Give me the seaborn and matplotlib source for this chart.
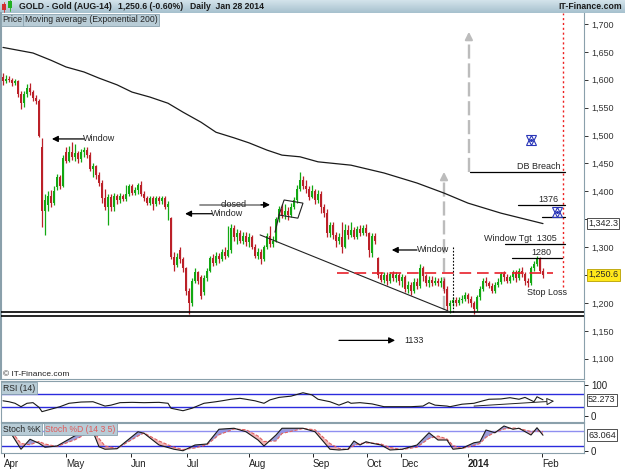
import numpy as np
import matplotlib
matplotlib.use('Agg')
import matplotlib.pyplot as plt
import seaborn as sns
from matplotlib.patches import Rectangle, Polygon

# daily candles, Apr 2013 - Jan 28 2014
opens = [1605, 1598, 1602, 1600, 1594, 1598, 1575, 1558, 1575, 1585, 1578, 1568, 1562, 1480, 1365, 1375, 1392, 1380, 1408, 1425,
         1410, 1470, 1455, 1470, 1462, 1468, 1458, 1470, 1474, 1466, 1440, 1445, 1430, 1415, 1388, 1372, 1390, 1372, 1392, 1385,
         1392, 1386, 1395, 1410, 1398, 1402, 1412, 1395, 1388, 1380, 1388, 1378, 1388, 1383, 1388, 1372, 1352, 1282, 1268, 1295,
         1278, 1262, 1222, 1200, 1240, 1255, 1246, 1220, 1245, 1258, 1280, 1272, 1285, 1278, 1292, 1285, 1295, 1335, 1318, 1325,
         1312, 1320, 1310, 1318, 1300, 1285, 1292, 1278, 1300, 1320, 1305, 1312, 1350, 1368, 1358, 1365, 1358, 1372, 1384, 1405,
         1420, 1410, 1405, 1390, 1400, 1385, 1395, 1372, 1362, 1325, 1340, 1322, 1312, 1318, 1300, 1330, 1322, 1330, 1318, 1332,
         1325, 1335, 1325, 1290, 1320, 1280, 1250, 1242, 1250, 1240, 1252, 1245, 1250, 1240, 1246, 1225, 1232, 1222, 1238, 1230,
         1262, 1248, 1235, 1242, 1236, 1240, 1235, 1240, 1225, 1195, 1200, 1205, 1200, 1205, 1208, 1214, 1208, 1200, 1190, 1210,
         1225, 1240, 1236, 1230, 1222, 1232, 1238, 1252, 1246, 1240, 1246, 1256, 1245, 1258, 1252, 1240, 1236, 1262, 1270, 1278,
         1258]
highs = [1612, 1608, 1606, 1604, 1602, 1600, 1580, 1580, 1592, 1595, 1582, 1572, 1566, 1495, 1395, 1400, 1402, 1410, 1432, 1430,
         1465, 1480, 1482, 1489, 1485, 1472, 1476, 1480, 1480, 1470, 1450, 1448, 1434, 1420, 1404, 1396, 1395, 1398, 1396, 1398,
         1396, 1412, 1414, 1414, 1408, 1415, 1418, 1400, 1392, 1392, 1392, 1392, 1392, 1392, 1392, 1382, 1355, 1292, 1290, 1300,
         1282, 1265, 1226, 1245, 1262, 1258, 1250, 1250, 1262, 1285, 1288, 1292, 1290, 1296, 1300, 1338, 1342, 1340, 1332, 1330,
         1328, 1328, 1325, 1322, 1305, 1298, 1296, 1304, 1325, 1338, 1320, 1355, 1374, 1378, 1378, 1372, 1380, 1390, 1412, 1435,
         1428, 1420, 1410, 1412, 1405, 1402, 1400, 1378, 1368, 1345, 1345, 1328, 1325, 1345, 1342, 1340, 1345, 1336, 1338, 1340,
         1340, 1342, 1328, 1326, 1325, 1282, 1256, 1256, 1255, 1256, 1258, 1255, 1254, 1252, 1250, 1240, 1238, 1245, 1244, 1270,
         1266, 1252, 1248, 1248, 1246, 1245, 1246, 1244, 1230, 1205, 1210, 1210, 1210, 1214, 1220, 1218, 1212, 1204, 1214, 1230,
         1244, 1246, 1240, 1236, 1238, 1244, 1256, 1258, 1252, 1250, 1260, 1260, 1262, 1264, 1256, 1244, 1266, 1276, 1284, 1282,
         1262]
lows = [1590, 1594, 1596, 1588, 1590, 1570, 1548, 1552, 1570, 1572, 1562, 1556, 1498, 1336, 1322, 1365, 1372, 1376, 1402, 1405,
        1408, 1450, 1452, 1456, 1455, 1450, 1452, 1462, 1460, 1436, 1425, 1422, 1410, 1380, 1366, 1340, 1365, 1365, 1378, 1380,
        1382, 1383, 1392, 1394, 1394, 1396, 1392, 1382, 1376, 1376, 1366, 1374, 1378, 1378, 1368, 1349, 1278, 1258, 1265, 1272,
        1255, 1215, 1180, 1195, 1236, 1234, 1208, 1215, 1240, 1255, 1266, 1268, 1272, 1275, 1278, 1282, 1290, 1312, 1305, 1308,
        1305, 1302, 1300, 1296, 1280, 1278, 1270, 1275, 1296, 1300, 1300, 1310, 1345, 1352, 1350, 1348, 1355, 1368, 1380, 1400,
        1405, 1398, 1385, 1388, 1378, 1380, 1362, 1355, 1318, 1318, 1315, 1300, 1305, 1290, 1298, 1315, 1318, 1314, 1315, 1320,
        1322, 1320, 1282, 1282, 1305, 1245, 1238, 1236, 1232, 1236, 1240, 1238, 1232, 1228, 1220, 1218, 1215, 1218, 1225, 1226,
        1240, 1230, 1228, 1230, 1232, 1230, 1228, 1218, 1188, 1182, 1195, 1195, 1196, 1200, 1204, 1200, 1192, 1180, 1186, 1206,
        1222, 1230, 1226, 1218, 1218, 1228, 1234, 1240, 1236, 1236, 1242, 1238, 1242, 1246, 1232, 1228, 1232, 1258, 1266, 1254,
        1245]
closes = [1598, 1602, 1600, 1594, 1598, 1575, 1558, 1575, 1585, 1578, 1568, 1562, 1500, 1365, 1385, 1392, 1380, 1400, 1425, 1410,
          1460, 1455, 1470, 1462, 1468, 1458, 1470, 1474, 1466, 1440, 1445, 1430, 1415, 1388, 1372, 1390, 1372, 1392, 1385, 1392,
          1386, 1395, 1410, 1398, 1402, 1412, 1395, 1388, 1380, 1388, 1378, 1388, 1383, 1388, 1372, 1378, 1282, 1268, 1282, 1278,
          1262, 1222, 1200, 1240, 1255, 1240, 1212, 1245, 1258, 1280, 1272, 1285, 1278, 1292, 1285, 1295, 1335, 1318, 1325, 1312,
          1320, 1310, 1318, 1300, 1285, 1292, 1278, 1300, 1320, 1305, 1312, 1350, 1368, 1358, 1365, 1358, 1372, 1384, 1405, 1420,
          1410, 1405, 1390, 1400, 1385, 1395, 1372, 1362, 1325, 1340, 1322, 1312, 1318, 1300, 1330, 1322, 1330, 1318, 1332, 1325,
          1335, 1325, 1295, 1320, 1312, 1250, 1242, 1250, 1240, 1252, 1245, 1250, 1240, 1246, 1225, 1232, 1222, 1238, 1230, 1262,
          1248, 1235, 1242, 1236, 1240, 1235, 1240, 1225, 1195, 1200, 1205, 1200, 1205, 1208, 1214, 1208, 1200, 1190, 1210, 1225,
          1240, 1236, 1230, 1222, 1232, 1238, 1252, 1246, 1240, 1246, 1256, 1245, 1258, 1252, 1240, 1236, 1262, 1270, 1278, 1258,
          1250.6]

# exponential moving average 200 (sampled along the curve)
ma_bars = [0, 10, 16, 21, 27, 32, 38, 43, 49, 55, 60, 66, 71, 77, 82, 88, 93, 99, 105, 116, 127, 138, 147, 155, 166, 175, 180]
ma_vals = [1658, 1648, 1635, 1623, 1614, 1603, 1591, 1578, 1569, 1558, 1542, 1524, 1506, 1496, 1487, 1474, 1465, 1462, 1453,
           1447, 1433, 1415, 1397, 1379, 1361, 1349, 1342.3]

rsi_bars = [0, 2, 4, 6, 8, 10, 12, 13, 16, 19, 22, 26, 30, 34, 36, 39, 43, 47, 52, 55, 56, 60, 63, 67, 71, 73, 76, 79, 81, 84,
            87, 89, 92, 96, 100, 103, 105, 109, 112, 115, 116, 119, 123, 127, 132, 136, 140, 142, 144, 148, 149, 153, 157, 160,
            162, 166, 169, 172, 174, 177, 178, 180]
rsi_vals = [49, 46, 41, 30, 41, 43, 28, 14, 22, 30, 41, 45, 46, 32, 35, 43, 44, 43, 44, 41, 25, 17, 25, 41, 46, 49, 54, 57, 54, 49,
            41, 52, 60, 64, 75, 68, 54, 46, 35, 46, 41, 43, 39, 30, 30, 30, 32, 43, 35, 32, 30, 38, 41, 49, 54, 55, 59, 54, 60, 46,
            62, 52.273]

stoch_bars = [3, 6, 9, 12, 14, 18, 24, 28, 30, 32, 34, 38, 45, 47, 52, 57, 60, 64, 68, 72, 77, 81, 85, 87, 91, 93, 100, 104, 109,
              112, 115, 117, 119, 121, 123, 126, 129, 133, 138, 142, 145, 148, 150, 153, 157, 159, 161, 164, 167, 170, 172, 176,
              178, 180]
stoch_k = [64, 7, 47, 31, 15, 20, 61, 77, 77, 17, 7, 9, 77, 71, 24, 7, 1, 24, 28, 87, 91, 77, 44, 20, 64, 91, 91, 77, 7, 4, 7, 40,
           24, 37, 31, 24, 4, 7, 24, 73, 44, 44, 7, 11, 33, 37, 84, 73, 100, 87, 91, 64, 93, 63.064]
stoch_d = [75, 30, 25, 38, 28, 18, 45, 70, 78, 50, 20, 10, 60, 72, 40, 15, 6, 12, 25, 65, 88, 85, 60, 38, 40, 70, 90, 85, 30, 10,
           6, 22, 30, 32, 32, 28, 14, 6, 15, 50, 60, 48, 22, 10, 22, 30, 55, 75, 88, 92, 90, 78, 80, 78]

month_bars = [0.3, 21, 42.7, 61.3, 82, 103.3, 121.3, 132.7, 155, 179.7]
month_labels = ['Apr', 'May', 'Jun', 'Jul', 'Aug', 'Sep', 'Oct', 'Dec', '2014', 'Feb']
price_ticks = list(range(1100, 1701, 50))

sns.set_style('white')
plt.rcParams['font.family'] = ['Liberation Sans', 'DejaVu Sans']

W, H = 625, 469
fig = plt.figure(figsize=(6.25, 4.69), dpi=100)


def box(x0, y0, x1, y1):
    return [x0 / W, 1 - y1 / H, (x1 - x0) / W, (y1 - y0) / H]


frame = '#8aa0ab'
lbl_box = dict(boxstyle='square,pad=0.18', fc='#b8ccd6', ec='#8aa2ae', lw=0.6)

# ---- title bar
ax_t = fig.add_axes(box(0, 0, 625, 13))
grad = np.linspace(0, 1, 20).reshape(-1, 1)
ax_t.imshow(grad, aspect='auto', extent=(0, 625, 13, 0),
            cmap=matplotlib.colors.LinearSegmentedColormap.from_list('g', ['#d3e3eb', '#a7c1ce']))
ax_t.set_xlim(0, 625)
ax_t.set_ylim(13, 0)
ax_t.axis('off')
ax_t.add_patch(Rectangle((2, 4), 4, 6, fc='#d23030', ec='none'))
ax_t.plot([4, 4], [2, 12], color='#d23030', lw=0.6)
ax_t.add_patch(Rectangle((8, 1.5), 4, 7, fc='#22b022', ec='none'))
ax_t.plot([10, 10], [0.5, 11], color='#22b022', lw=0.6)
tkw = dict(fontsize=6.2, fontweight='bold', color='#1a1a1a', va='center')
ax_t.text(19, 6.8, 'GOLD - Gold (AUG-14)', **tkw)
ax_t.text(118, 6.8, '1,250.6 (-0.60%)', **tkw)
ax_t.text(190, 6.8, 'Daily  Jan 28 2014', **tkw)
ax_t.text(622, 6.8, 'IT-Finance.com', ha='right', **tkw)

# ---- price panel
ax = fig.add_axes(box(1, 13, 584, 379))
idx = np.arange(len(closes))
o = np.array(opens, dtype=float)
c = np.array(closes, dtype=float)
col = np.where(c >= o, '#12a812', '#bb2028')
ax.vlines(idx, lows, highs, colors=col, lw=0.9, zorder=3)
ax.bar(idx, np.maximum(np.abs(c - o), 1.5), bottom=np.minimum(o, c), width=0.8, color=col, linewidth=0, zorder=3)
sns.lineplot(x=ma_bars, y=ma_vals, ax=ax, color='#1a1a1a', lw=0.9, zorder=4)

ax.set_xlim(-0.667, 193.67)
ax.set_ylim(1063.8, 1719.7)
ax.set_xticks([])
ax.yaxis.tick_right()
ax.set_yticks(price_ticks)
ax.set_yticklabels(['' if v in (1250, 1350) else f'{v:,}' for v in price_ticks])
ax.tick_params(axis='y', direction='out', length=3, width=0.7, colors='#333333', labelsize=6.5, pad=2)
ax.spines['top'].set_visible(False)
for s in ('left', 'right', 'bottom'):
    ax.spines[s].set_color(frame)
ax.spines['left'].set_linewidth(1.5)

# support lines and patterns
for lvl in (1184.5, 1177):
    ax.axhline(lvl, color='k', lw=1.2, zorder=5)
ax.plot([85.7, 148.3], [1322, 1186], color='#222222', lw=0.8, zorder=5)
ax.plot([111.3, 183.3], [1253, 1253], color='#e8202a', lw=1.2, dashes=(7, 3.5), zorder=5)
ax.plot([150, 150], [1184, 1300], color='k', lw=0.8, ls=(0, (1.5, 1.5)), zorder=5)
ax.plot([186.7, 186.7], [1228, 1720], color='#ee2020', lw=1, ls=(0, (1.5, 2)), zorder=5)

# projected moves (grey dashed arrows)
gray = '#bcbcbc'
ax.plot([155.3, 155.3], [1435, 1674], color=gray, lw=1.7, dashes=(6, 2), zorder=1)
ax.annotate('', xy=(155.3, 1686), xytext=(155.3, 1672),
            arrowprops=dict(arrowstyle='-|>', color=gray, mutation_scale=11, lw=1.5, shrinkA=0, shrinkB=0))
ax.plot([147, 147], [1187, 1423], color=gray, lw=1.7, dashes=(6, 2), zorder=1)
ax.annotate('', xy=(147, 1435), xytext=(147, 1421),
            arrowprops=dict(arrowstyle='-|>', color=gray, mutation_scale=11, lw=1.5, shrinkA=0, shrinkB=0))

# flag
ax.add_patch(Polygon([(93.7, 1384.6), (100, 1379), (98.3, 1352), (92, 1357.7)], closed=True,
                     fill=False, ec='#222222', lw=0.8, zorder=5))
ax.plot([90.7, 92], [1327, 1357.7], color='#222222', lw=0.9, zorder=5)

akw = dict(arrowstyle='-|>', color='k', lw=0.9, mutation_scale=9, shrinkA=0, shrinkB=0)
fs = 6.5
ax.annotate('', xy=(16.3, 1494), xytext=(27, 1494), arrowprops=akw, zorder=6)
ax.text(26.7, 1494, 'Window', fontsize=fs, va='center', zorder=6)
ax.plot([65.7, 87], [1376, 1376], color='#888888', lw=1.3, zorder=5)
ax.annotate('', xy=(89, 1376), xytext=(86, 1376), arrowprops=akw, zorder=6)
ax.text(77, 1377, 'closed', fontsize=fs, va='center', ha='center', zorder=6)
ax.annotate('', xy=(60.7, 1360), xytext=(69.7, 1360), arrowprops=akw, zorder=6)
ax.text(69.3, 1360, 'Window', fontsize=fs, va='center', zorder=6)
ax.annotate('', xy=(129.6, 1295), xytext=(138, 1295), arrowprops=akw, zorder=6)
ax.text(138, 1295, 'Window', fontsize=fs, va='center', zorder=6)
ax.annotate('', xy=(130.7, 1133), xytext=(112, 1133), arrowprops=akw, zorder=6)
ax.text(133.7, 1133, '1133', fontsize=fs, va='center', zorder=6)

# target levels
for x0, x1, y in [(155.7, 187.3, 1435), (171.7, 187.3, 1376), (179.7, 187.3, 1354),
                  (167.3, 187.3, 1306), (169.7, 186.3, 1281)]:
    ax.plot([x0, x1], [y, y], color='k', lw=0.9, zorder=5, clip_on=False)
ax.text(185.7, 1437, 'DB Breach', fontsize=fs, ha='right', va='bottom', zorder=6)
ax.text(181.7, 1377, '1376', fontsize=fs, ha='center', va='bottom', zorder=6)
ax.text(184.7, 1307, 'Window Tgt  1305', fontsize=fs, ha='right', va='bottom', zorder=6)
ax.text(179.3, 1282, '1280', fontsize=fs, ha='center', va='bottom', zorder=6)
ax.text(181.3, 1218, 'Stop Loss', fontsize=fs, ha='center', va='center', color='#222222', zorder=6)

for sx, sy in [(176, 1492), (184.7, 1363)]:
    ax.plot(sx, sy, marker='^', ms=6.5, mfc='none', mec='#2a36b8', mew=0.8, zorder=6)
    ax.plot(sx, sy, marker='v', ms=6.5, mfc='none', mec='#2a36b8', mew=0.8, zorder=6)
    ax.plot(sx, sy, marker='o', ms=1.2, color='#2a36b8', zorder=6)

ytr = ax.get_yaxis_transform()
ax.text(1.007, 1342.3, '1,342.3', transform=ytr, fontsize=6.5, va='center', ha='left', clip_on=False,
        bbox=dict(boxstyle='square,pad=0.15', fc='white', ec='#333333', lw=0.6))
ax.text(1.007, 1250.6, '1,250.6', transform=ytr, fontsize=6.5, va='center', ha='left', clip_on=False,
        bbox=dict(boxstyle='square,pad=0.15', fc='#ffe81a', ec='#b8a000', lw=0.6))

ax.text(0.003, 0.994, 'Price', transform=ax.transAxes, fontsize=6.2, va='top', ha='left', bbox=lbl_box, zorder=7)
ax.text(0.041, 0.994, 'Moving average (Exponential 200)', transform=ax.transAxes, fontsize=6.2, va='top',
        ha='left', bbox=lbl_box, zorder=7)
fig.text(3 / W, 1 - 374 / H, '\u00a9 IT-Finance.com', fontsize=6, va='center', color='#222222')

# ---- RSI panel
ax_r = fig.add_axes(box(1, 381, 584, 422))
ax_r.set_xlim(-0.667, 193.67)
ax_r.set_ylim(-19.4, 112.9)
for lvl in (70, 30):
    ax_r.axhline(lvl, color='#2b2bdd', lw=1)
sns.lineplot(x=rsi_bars, y=rsi_vals, ax=ax_r, color='#1a1a1a', lw=0.8)
ax_r.annotate('', xy=(183.7, 48), xytext=(157, 32),
              arrowprops=dict(arrowstyle='-|>', fc='white', ec='#222222', lw=0.7, mutation_scale=11,
                              shrinkA=0, shrinkB=0))
ax_r.set_xticks([])
ax_r.yaxis.tick_right()
ax_r.set_yticks([0, 100])
ax_r.set_yticklabels(['0', '100'])
ax_r.tick_params(axis='y', direction='out', length=3, width=0.7, colors='#222222', labelsize=7, pad=2)
for s in ax_r.spines.values():
    s.set_color(frame)
ax_r.text(1.007, 52.273, '52.273', transform=ax_r.get_yaxis_transform(), fontsize=6.5, va='center',
          ha='left', clip_on=False, bbox=dict(boxstyle='square,pad=0.15', fc='white', ec='#333333', lw=0.6))
ax_r.text(0.003, 0.93, 'RSI (14)', transform=ax_r.transAxes, fontsize=6.2, va='top', ha='left', bbox=lbl_box)

# ---- Stochastic panel
ax_s = fig.add_axes(box(1, 422.5, 584, 453))
ax_s.set_xlim(-0.667, 193.67)
ax_s.set_ylim(-8, 114)
ax_s.axhline(80, color='#8f8ff0', lw=1)
ax_s.axhline(20, color='#2b2bdd', lw=1)
k = np.array(stoch_k, dtype=float)
d = np.array(stoch_d, dtype=float)
ax_s.fill_between(stoch_bars, k, d, where=k >= d, interpolate=True, color='#9c9cd6', lw=0)
ax_s.fill_between(stoch_bars, k, d, where=k < d, interpolate=True, color='#f2b4b4', lw=0)
sns.lineplot(x=stoch_bars, y=stoch_d, ax=ax_s, color='#e06060', lw=0.8, dashes=False, linestyle=(0, (3, 1.5)))
sns.lineplot(x=stoch_bars, y=stoch_k, ax=ax_s, color='#1a1a1a', lw=0.8)
ax_s.yaxis.tick_right()
ax_s.set_yticks([0])
ax_s.set_yticklabels(['0'])
ax_s.tick_params(axis='y', direction='out', length=3, width=0.7, colors='#222222', labelsize=7, pad=2)
ax_s.set_xticks(month_bars)
ax_s.set_xticklabels(month_labels)
ax_s.tick_params(axis='x', direction='out', length=3, width=0.7, colors='#222222', labelsize=7, pad=1.5, bottom=True)
for t in ax_s.get_xticklabels():
    t.set_ha('left')
    if t.get_text() == '2014':
        t.set_fontweight('bold')
for s in ax_s.spines.values():
    s.set_color(frame)
ax_s.text(1.007, 63.064, '63.064', transform=ax_s.get_yaxis_transform(), fontsize=6.5, va='center',
          ha='left', clip_on=False, bbox=dict(boxstyle='square,pad=0.15', fc='white', ec='#333333', lw=0.6))
ax_s.text(0.003, 0.93, 'Stoch %K', transform=ax_s.transAxes, fontsize=6.2, va='top', ha='left', bbox=lbl_box)
ax_s.text(0.076, 0.93, 'Stoch %D (14 3 5)', transform=ax_s.transAxes, fontsize=6.2, va='top', ha='left',
          color='#e05a5a', bbox=lbl_box)

fig.savefig('out.png', dpi=100)
